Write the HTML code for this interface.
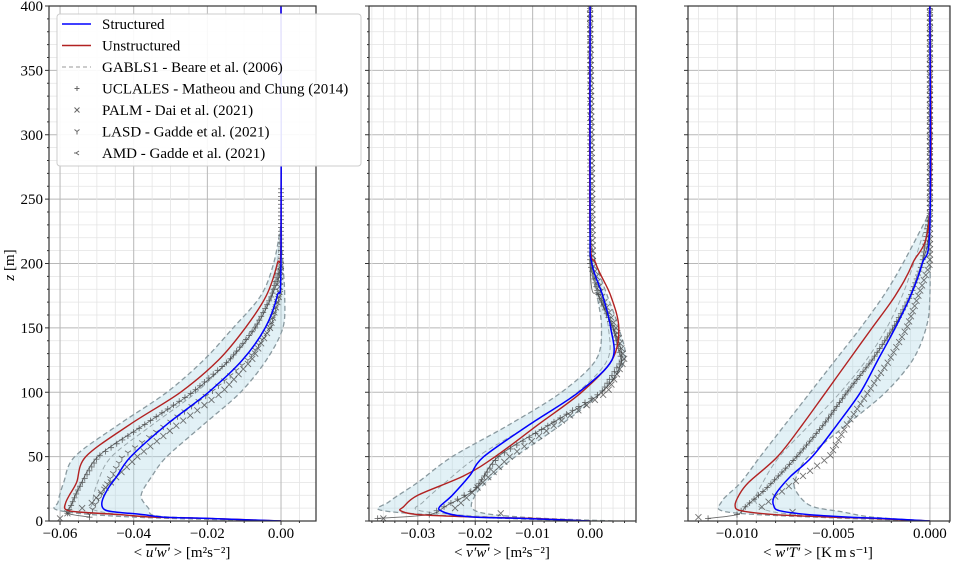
<!DOCTYPE html>
<html><head><meta charset="utf-8">
<style>
html,body{margin:0;padding:0;background:#fff;}
svg{display:block;font-family:"Liberation Serif",serif;}
</style></head>
<body>
<svg id="chart" width="959" height="563" viewBox="0 0 959 563" xmlns="http://www.w3.org/2000/svg">
<text x="14" y="265" font-size="15" text-anchor="middle" transform="rotate(-90 14 265)"><tspan font-style="italic">z</tspan> [m]</text>
</svg>
<script>
// ---- data: [z, value] profiles ----
const zTicks = [0,50,100,150,200,250,300,350,400];
// panel 1: <u'w'>
const p1Ticks = [-0.06,-0.04,-0.02,0.00];
const p1Labels = ["\u22120.06","\u22120.04","\u22120.02","0.00"];
const p1Structured = [[0,0],[2,-0.02],[3,-0.032],[5,-0.0375],[7,-0.045],[9,-0.048],[15,-0.0486],[25,-0.047],[35,-0.0445],[50,-0.0408],[75,-0.031],[100,-0.0197],[125,-0.0105],[150,-0.0043],[175,-0.001],[200,0],[400,0]];
const p1Unstructured = [[0,0],[2,-0.02],[3,-0.035],[5,-0.044],[7,-0.055],[9,-0.0585],[14,-0.0585],[20,-0.0575],[30,-0.0555],[50,-0.053],[75,-0.041],[100,-0.0273],[125,-0.017],[150,-0.0097],[175,-0.004],[200,-0.001],[220,0],[400,0]];
const p1BandLo = [[0,0],[3,-0.04],[8,-0.06],[15,-0.0605],[30,-0.059],[50,-0.056],[75,-0.044],[100,-0.031],[125,-0.021],[150,-0.013],[175,-0.0055],[200,-0.002],[230,0]];
const p1BandHi = [[0,0],[2,-0.02],[4,-0.034],[10,-0.036],[20,-0.038],[35,-0.035],[50,-0.031],[75,-0.021],[100,-0.011],[125,-0.004],[150,0.0005],[175,0.001],[200,0.0005],[220,0]];
const p1Uclales = [[3,-0.052],[6,-0.058],[12,-0.057],[25,-0.055],[50,-0.0497],[75,-0.037],[100,-0.024],[125,-0.014],[150,-0.007],[175,-0.0025],[200,0],[260,0]];
const p1Palm = [[2,-0.06],[6,-0.058],[12,-0.052],[25,-0.048],[50,-0.039],[75,-0.028],[100,-0.016],[125,-0.008],[150,-0.003],[175,-0.0005],[200,0]];
const p1Lasd = [[5,-0.052],[15,-0.05],[30,-0.047],[50,-0.043],[75,-0.031],[100,-0.019],[125,-0.009],[150,-0.003],[180,0]];
// panel 2: <v'w'>
const p2Ticks = [-0.03,-0.02,-0.01,0.00];
const p2Labels = ["\u22120.03","\u22120.02","\u22120.01","0.00"];
const p2Structured = [[0,0],[2,-0.012],[3,-0.02],[5,-0.024],[8,-0.026],[11,-0.0262],[20,-0.024],[35,-0.021],[50,-0.0185],[75,-0.0105],[100,-0.002],[125,0.0038],[150,0.0036],[175,0.0022],[200,0.0003],[230,0],[400,0]];
const p2Unstructured = [[0,0],[2,-0.01],[3,-0.02],[5,-0.03],[8,-0.033],[11,-0.0325],[20,-0.03],[35,-0.022],[50,-0.0165],[75,-0.009],[100,-0.0015],[125,0.0038],[150,0.0050],[175,0.0036],[200,0.001],[225,0],[400,0]];
const p2BandLo = [[0,0],[3,-0.02],[8,-0.036],[15,-0.035],[30,-0.03],[50,-0.024],[75,-0.014],[100,-0.005],[125,0.001],[150,0.002],[175,0.0012],[200,0],[220,0]];
const p2BandHi = [[0,0.004],[3,-0.012],[8,-0.02],[20,-0.02],[35,-0.017],[50,-0.013],[75,-0.005],[100,0.002],[125,0.006],[150,0.005],[175,0.003],[200,0.001],[220,0]];
const p2Uclales = [[2,-0.037],[5,-0.028],[12,-0.025],[25,-0.02],[50,-0.016],[75,-0.007],[100,0.002],[125,0.0055],[150,0.004],[175,0.0015],[200,0],[400,0]];
const p2Palm = [[2,-0.036],[3,-0.02],[3.5,-0.005],[8,-0.024],[20,-0.021],[50,-0.014],[75,-0.006],[100,0.003],[125,0.006],[150,0.0045],[175,0.002],[200,0.0005],[400,0]];
// panel 3: <w'T'>
const p3Ticks = [-0.010,-0.005,0.000];
const p3Labels = ["\u22120.010","\u22120.005","0.000"];
const p3Structured = [[0,0],[2,-0.0025],[3,-0.0042],[5,-0.0063],[8,-0.0078],[12,-0.0081],[18,-0.0081],[25,-0.0078],[35,-0.0072],[50,-0.0061],[75,-0.0048],[100,-0.0036],[125,-0.0027],[150,-0.0018],[175,-0.001],[200,-0.0004],[230,0],[400,0]];
const p3Unstructured = [[0,0],[2,-0.003],[3,-0.0052],[5,-0.0081],[8,-0.0098],[12,-0.0101],[20,-0.0099],[30,-0.0094],[50,-0.0079],[75,-0.0066],[100,-0.0054],[125,-0.0042],[150,-0.003],[175,-0.0018],[200,-0.0009],[240,0],[400,0]];
const p3BandLo = [[0,0],[3,-0.006],[7,-0.0105],[15,-0.0108],[30,-0.0098],[50,-0.0088],[75,-0.0075],[100,-0.0062],[125,-0.0049],[150,-0.0036],[175,-0.0024],[200,-0.0014],[240,0]];
const p3BandHi = [[0,0],[3,-0.003],[7,-0.0045],[12,-0.0062],[25,-0.007],[35,-0.0069],[50,-0.0063],[75,-0.0043],[100,-0.0023],[125,-0.0009],[150,-0.0002],[175,0],[240,0]];
const p3Uclales = [[2,-0.0115],[5,-0.01],[12,-0.0095],[25,-0.0085],[50,-0.0069],[75,-0.0055],[100,-0.0043],[125,-0.003],[150,-0.0019],[175,-0.001],[200,-0.0004],[240,0],[400,0]];
const p3Palm = [[3,-0.012],[4,-0.009],[5,-0.006],[10,-0.0088],[25,-0.0075],[50,-0.0052],[75,-0.0043],[100,-0.0032],[125,-0.0021],[150,-0.0012],[200,0],[400,0]];

const panels = [
 {name:'uw',x0:49,x1:316,lo:-0.063,hi:0.0095,minor:0.005,ticks:p1Ticks,labels:p1Labels,s:p1Structured,u:p1Unstructured,bl:p1BandLo,bh:p1BandHi,refA:p1Uclales,refB:p1Palm,refC:p1Lasd},
 {name:'vw',x0:369,x1:636,lo:-0.0385,hi:0.008,minor:0.002,ticks:p2Ticks,labels:p2Labels,s:p2Structured,u:p2Unstructured,bl:p2BandLo,bh:p2BandHi,refA:p2Uclales,refB:p2Palm,refC:null},
 {name:'wt',x0:688,x1:950,lo:-0.01254,hi:0.00104,minor:0.001,ticks:p3Ticks,labels:p3Labels,s:p3Structured,u:p3Unstructured,bl:p3BandLo,bh:p3BandHi,refA:p3Uclales,refB:p3Palm,refC:null}
];
const Y0=521, YT=6;
const svg=document.getElementById('chart');
const NS='http://www.w3.org/2000/svg';
function yS(z){return Y0-(z/400)*(Y0-YT);}
function mk(tag,attrs,parent){const e=document.createElementNS(NS,tag);for(const k in attrs)e.setAttribute(k,attrs[k]);(parent||svg).appendChild(e);return e;}
function interp(arr,z){for(let i=0;i<arr.length-1;i++){if(z>=arr[i][0]&&z<=arr[i+1][0]){const t=(z-arr[i][0])/(arr[i+1][0]-arr[i][0]);return arr[i][1]+t*(arr[i+1][1]-arr[i][1]);}}return null;}
// smooth path (Catmull-Rom) in pixel space
function pathOf(arr,xS,cont){
 const p=arr.map(a=>[xS(a[1]),yS(a[0])]);
 let d=(cont?'L':'M')+p[0][0].toFixed(1)+' '+p[0][1].toFixed(1);
 for(let i=0;i<p.length-1;i++){
  const p0=p[Math.max(0,i-1)],p1=p[i],p2=p[i+1],p3=p[Math.min(p.length-1,i+2)];
  const k=0.16;
  const c1=[p1[0]+(p2[0]-p0[0])*k,p1[1]+(p2[1]-p0[1])*k];
  const c2=[p2[0]-(p3[0]-p1[0])*k,p2[1]-(p3[1]-p1[1])*k];
  d+='C'+c1[0].toFixed(1)+' '+c1[1].toFixed(1)+' '+c2[0].toFixed(1)+' '+c2[1].toFixed(1)+' '+p2[0].toFixed(1)+' '+p2[1].toFixed(1);
 }
 return d;}

panels.forEach(P=>{
 const xS=v=>P.x0+(v-P.lo)/(P.hi-P.lo)*(P.x1-P.x0);
 const g=mk('g',{});
 
 
 const clip=mk('clipPath',{id:'clip-'+P.name},g);
 mk('rect',{x:P.x0,y:YT,width:P.x1-P.x0,height:Y0-YT},clip);
 for(let z=0;z<=400;z+=10){const maj=z%50===0;const l=mk('line',{x1:P.x0,x2:P.x1,y1:yS(z),y2:yS(z),stroke:maj?'#b8b8b8':'#e4e4e4','stroke-width':maj?1:0.8},g);
  }
 const n0=Math.ceil(P.lo/P.minor), n1=Math.floor(P.hi/P.minor);
 for(let k=n0;k<=n1;k++){const v=k*P.minor;const maj=P.ticks.some(t=>Math.abs(t-v)<P.minor/10);
  const l=mk('line',{x1:xS(v),x2:xS(v),y1:YT,y2:Y0,stroke:maj?'#b8b8b8':'#e4e4e4','stroke-width':maj?1:0.8},g);
  
  mk('line',{x1:xS(v),x2:xS(v),y1:Y0,y2:Y0+(maj?4:2),stroke:'#333'},g);}
 const cg=mk('g',{'clip-path':'url(#clip-'+P.name+')'},g);
 const b=mk('path',{d:pathOf(P.bl,xS)+pathOf(P.bh.slice().reverse(),xS,true)+'Z',fill:'#add8e6','fill-opacity':0.35,stroke:'none'},cg);
 
 [P.bl,P.bh].forEach(a=>{const l=mk('path',{d:pathOf(a,xS),fill:'none',stroke:'#8a9aa0','stroke-width':1.3,'stroke-dasharray':'5 3'},cg);
  });
 const mid=P.bl.map(p=>{const h=interp(P.bh,p[0]);return [p[0],h===null?p[1]:(p[1]*0.6+h*0.4)];});
 const md=mk('path',{d:pathOf(mid,xS),fill:'none',stroke:'#9aa8ad','stroke-width':1,'stroke-dasharray':'5 3'},cg);
 
 const refs=[[P.refA,'plus'],[P.refB,'cross'],[P.refC,'tri']];
 refs.forEach(([arr,type])=>{if(!arr)return;
  if(type==='plus'){const l=mk('path',{d:pathOf(arr,xS),fill:'none',stroke:'#444','stroke-width':0.9,'stroke-opacity':0.8},cg);
   }
  const top=arr[arr.length-1][0];
  for(let z=arr[0][0];z<=Math.min(top,400);z+=(type==='plus'?3:4)){const v=interp(arr,z);if(v===null)continue;
   const x=xS(v),y=yS(z);let d;
   if(type==='plus')d=`M${x-3} ${y}h6M${x} ${y-3}v6`;
   else if(type==='cross')d=`M${x-3} ${y-3}l6 6M${x-3} ${y+3}l6 -6`;
   else d=`M${x-3} ${y-2}L${x} ${y}L${x+3} ${y-2}M${x} ${y}v3`;
   const m=mk('path',{d:d,stroke:'#444','stroke-width':0.9,'stroke-opacity':0.75,fill:'none'},cg);
   
   }
 });
 const u=mk('path',{d:pathOf(P.u,xS),fill:'none',stroke:'#b22222','stroke-width':1.4},cg);
 
 const s=mk('path',{d:pathOf(P.s,xS),fill:'none',stroke:'#0000ff','stroke-width':1.5},cg);
 
 const f=mk('rect',{x:P.x0,y:YT,width:P.x1-P.x0,height:Y0-YT,fill:'none',stroke:'#333','stroke-width':1.2},g);
 
 for(let z=0;z<=400;z+=10){mk('line',{x1:P.x0,x2:P.x0-(z%50?2:4),y1:yS(z),y2:yS(z),stroke:'#333'},g);}
 P.ticks.forEach((t,i)=>{const tx=mk('text',{x:xS(t),y:538,'font-size':15,'text-anchor':'middle'},g);tx.textContent=P.labels[i];
  });
});
zTicks.forEach(z=>{const t=mk('text',{x:43,y:yS(z)+5,'font-size':15,'text-anchor':'end'});t.textContent=z;
 });
</script>
<script>
(function(){
const svg=document.getElementById('chart');const NS='http://www.w3.org/2000/svg';
function mk(tag,attrs,parent){const e=document.createElementNS(NS,tag);for(const k in attrs)e.setAttribute(k,attrs[k]);(parent||svg).appendChild(e);return e;}
const titles=[[182,'u\u2032w\u2032','[m\u00B2s\u207B\u00B2]'],[502,'v\u2032w\u2032','[m\u00B2s\u207B\u00B2]'],[818,'w\u2032T\u2032','[K\u2009m\u2009s\u207B\u00B9]']];
titles.forEach(([x,q,u])=>{const t=mk('text',{x:x,y:557,'font-size':15,'text-anchor':'middle'});
 
 
 t.innerHTML='&lt; <tspan font-style="italic" text-decoration="overline">'+q+'</tspan> &gt; '+u;});
const lg=mk('g',{});


mk('rect',{x:57,y:14,width:304,height:152,rx:3,fill:'#fff','fill-opacity':0.9,stroke:'#ccc'},lg);
const items=[['Structured','line','#0000ff'],['Unstructured','line','#b22222'],['GABLS1 - Beare et al. (2006)','dash','#999'],['UCLALES - Matheou and Chung (2014)','plus','#666'],['PALM - Dai et al. (2021)','cross','#666'],['LASD - Gadde et al. (2021)','tri','#666'],['AMD - Gadde et al. (2021)','left','#666']];
items.forEach((it,i)=>{const y=24+i*21.5;const e=mk('g',{},lg);
 
 
 if(it[1]==='line')mk('line',{x1:62,x2:91,y1:y,y2:y,stroke:it[2],'stroke-width':1.6},e);
 else if(it[1]==='dash')mk('line',{x1:62,x2:91,y1:y,y2:y,stroke:it[2],'stroke-width':1.1,'stroke-dasharray':'4 3'},e);
 else{let d;const x=77;
  if(it[1]==='plus')d=`M${x-2.5} ${y}h5M${x} ${y-2.5}v5`;
  else if(it[1]==='cross')d=`M${x-2.5} ${y-2.5}l5 5M${x-2.5} ${y+2.5}l5 -5`;
  else if(it[1]==='tri')d=`M${x-2.5} ${y-2}L${x} ${y}L${x+2.5} ${y-2}M${x} ${y}v3`;
  else d=`M${x+2} ${y-2}L${x-1} ${y}L${x+2} ${y+2}M${x-1} ${y}h-2`;
  mk('path',{d:d,stroke:it[2],'stroke-width':1,fill:'none'},e);}
 const t=mk('text',{x:102,y:y+5,'font-size':15},e);t.textContent=it[0];});
})();
</script>
</body></html>
